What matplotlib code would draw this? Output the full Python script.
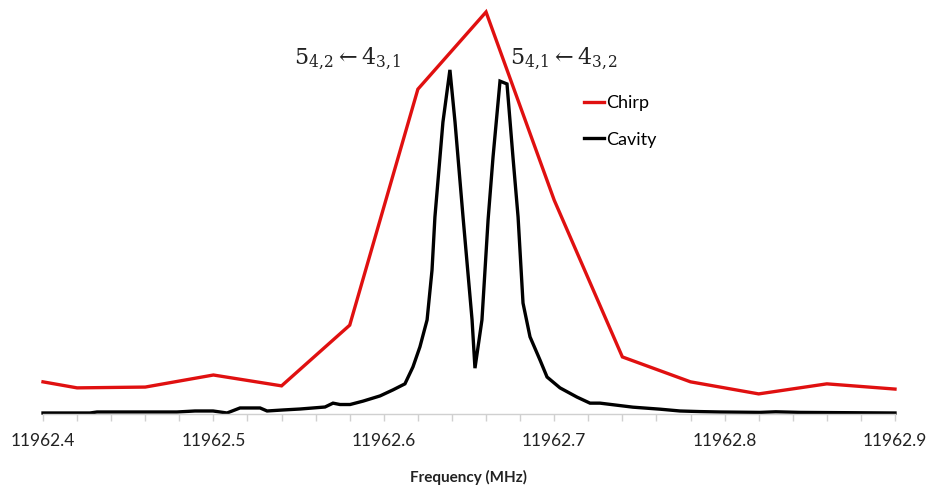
import matplotlib
matplotlib.use("Agg")
import matplotlib.pyplot as plt
from matplotlib.ticker import MultipleLocator, FormatStrFormatter

# Chirp spectrum (frequency in MHz, arbitrary intensity)
chirp_freq = [11962.40, 11962.42, 11962.46, 11962.50, 11962.54, 11962.58, 11962.62,
              11962.66, 11962.70, 11962.74, 11962.78, 11962.82, 11962.86, 11962.90]
chirp_int = [0.080, 0.065, 0.067, 0.097, 0.070, 0.221, 0.808,
             1.000, 0.532, 0.142, 0.080, 0.050, 0.075, 0.062]

# Cavity spectrum
cavity_freq = [11962.4000, 11962.4276, 11962.4317, 11962.4786, 11962.4892, 11962.4998,
               11962.5080, 11962.5156, 11962.5274, 11962.5315, 11962.5408, 11962.5508,
               11962.5655, 11962.5702, 11962.5743, 11962.5802, 11962.5878, 11962.5978,
               11962.6054, 11962.6124, 11962.6171, 11962.6212, 11962.6254, 11962.6283,
               11962.6300, 11962.6347, 11962.6388, 11962.6418, 11962.6465, 11962.6518,
               11962.6535, 11962.6576, 11962.6612, 11962.6641, 11962.6682, 11962.6723,
               11962.6758, 11962.6788, 11962.6817, 11962.6858, 11962.6917, 11962.6958,
               11962.7034, 11962.7134, 11962.7210, 11962.7269, 11962.7462, 11962.7621,
               11962.7738, 11962.7856, 11962.7973, 11962.8208, 11962.8300, 11962.8443,
               11962.9000]
cavity_int = [0.0025, 0.0025, 0.005, 0.005, 0.0075, 0.0075,
              0.0025, 0.015, 0.015, 0.0075, 0.010, 0.0124,
              0.0174, 0.027, 0.0236, 0.0236, 0.032, 0.045,
              0.060, 0.075, 0.117, 0.167, 0.234, 0.358,
              0.490, 0.726, 0.856, 0.726, 0.490, 0.234,
              0.114, 0.234, 0.483, 0.639, 0.828, 0.821,
              0.639, 0.490, 0.276, 0.192, 0.134, 0.092,
              0.065, 0.042, 0.027, 0.027, 0.017, 0.012,
              0.0075, 0.006, 0.005, 0.004, 0.0055, 0.004,
              0.0025]

series_labels = ["Chirp", "Cavity"]
xticks = [11962.4, 11962.5, 11962.6, 11962.7, 11962.8, 11962.9]
ann_left = r"$5_{4,\!2} \leftarrow 4_{3,\!1}$"
ann_right = r"$5_{4,\!1} \leftarrow 4_{3,\!2}$"
xlabel = "Frequency (MHz)"

plt.rcParams["font.family"] = ["Lato", "DejaVu Sans"]
plt.rcParams["mathtext.fontset"] = "dejavuserif"

W, H = 929, 486
fig = plt.figure(figsize=(W / 100, H / 100), dpi=100)
ax = fig.add_axes([43 / W, (H - 414) / H, 852 / W, 402 * 1.02 / H])

ax.plot(chirp_freq, chirp_int, color="#e01010", lw=2.4, label=series_labels[0],
        solid_joinstyle="miter", clip_on=False)
ax.plot(cavity_freq, cavity_int, color="black", lw=2.4, label=series_labels[1],
        solid_joinstyle="miter", clip_on=False)

ax.set_xlim(11962.4, 11962.9)
ax.set_ylim(0, 1.02)
for s in ["top", "right", "left"]:
    ax.spines[s].set_visible(False)
ax.spines["bottom"].set_color("#d0d0d0")
ax.spines["bottom"].set_linewidth(1.0)
ax.set_yticks([])
ax.set_xticks(xticks)
ax.xaxis.set_major_formatter(FormatStrFormatter("%.1f"))
ax.xaxis.set_minor_locator(MultipleLocator(0.02))
ax.tick_params(axis="x", which="both", direction="out", length=5, color="#d0d0d0",
               width=1.0)
ax.tick_params(axis="x", which="major", labelsize=12.5, pad=9, labelcolor="#222222")
ax.set_xlabel(xlabel, fontsize=11, fontweight="bold", labelpad=15, color="#222222")

ax.text(11962.5784, 0.885, ann_left, fontsize=16, ha="center", va="center", color="#222222")
ax.text(11962.7058, 0.885, ann_right, fontsize=16, ha="center", va="center", color="#222222")

fig.legend(loc="upper left", bbox_to_anchor=(584 / W, 1 - 95 / H), frameon=False,
           fontsize=13, handlelength=1.1, handletextpad=0.15, labelspacing=1.15,
           borderaxespad=0, borderpad=0)

fig.savefig("out.png", dpi=100)
